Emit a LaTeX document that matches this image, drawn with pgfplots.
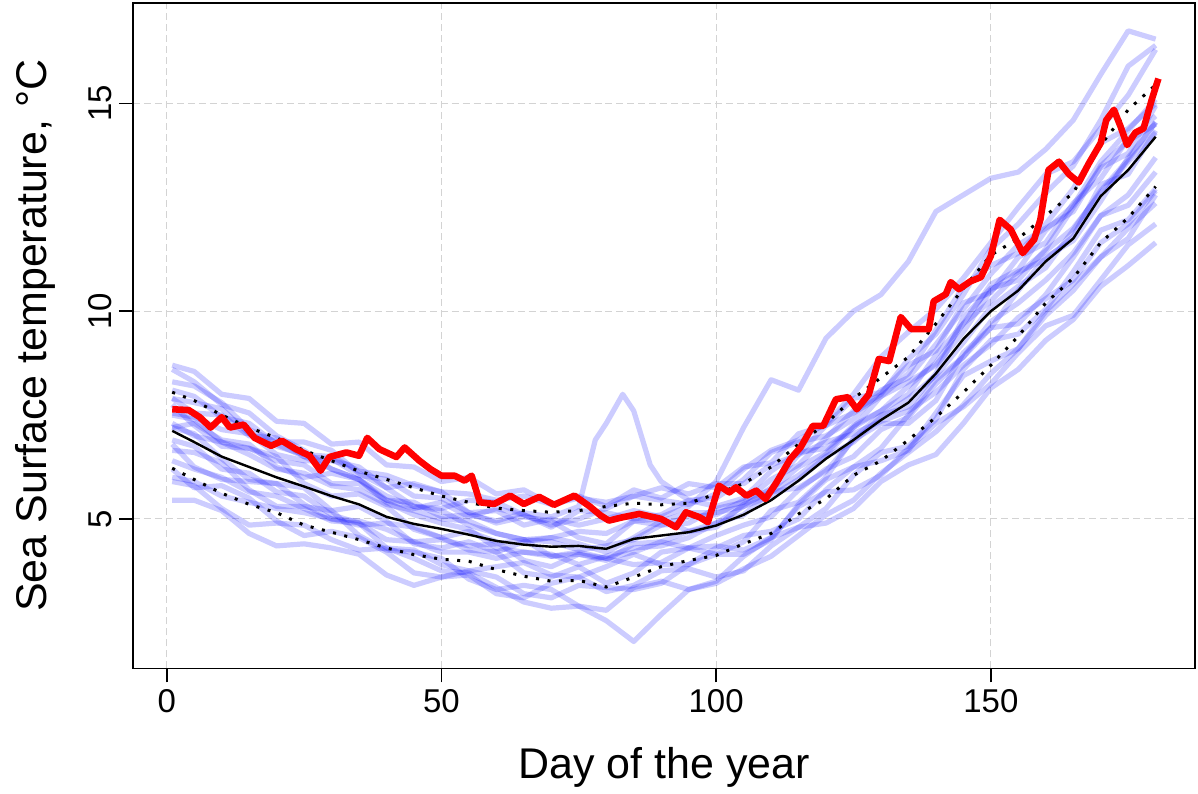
\documentclass[border=0pt]{standalone}
\usepackage{fontspec}
\setmainfont{Liberation Sans}
\usepackage{pgfplots}
\pgfplotsset{compat=1.18}
\definecolor{gridgray}{RGB}{211,211,211}

\begin{document}
\begin{tikzpicture}
\path[use as bounding box] (-66.5pt,-62.5pt) rectangle (533pt,334.5pt);
\begin{axis}[
  at={(0,0)}, anchor=south west,
  width=531.5pt, height=333pt, scale only axis,
  xmin=-6.16, xmax=187.16, ymin=1.4, ymax=17.42,
  xtick={0,50,100,150}, ytick={5,10,15},
  tick pos=left, tick align=outside, major tick length=7pt,
  axis line style={line width=0.8pt},
  tick style={line width=0.8pt, black},
  grid=major,
  major grid style={gridgray, dash pattern=on 3.5pt off 2pt, line width=0.5pt},
  /pgf/number format/assume math mode=true,
  tick label style={font=\fontsize{16.5}{19}\selectfont},
  yticklabel style={rotate=90, anchor=south},
  label style={font=\fontsize{21.5}{25}\selectfont},
  xlabel={Day of the year},
  ylabel={Sea Surface temperature, °C},
  xlabel style={at={(axis description cs:0.5,-0.1486)}, anchor=center},
  ylabel style={at={(axis description cs:-0.0922,0.5)}, anchor=center},
  spag/.style={draw=blue, opacity=0.2, line width=2.6pt, line join=round},
  sdline/.style={black, line width=1.5pt, dash pattern=on 1.5pt off 4.3pt},
]

% individual years
\addplot[spag] coordinates {(1,8.7)(5,8.55)(10,8.0)(15,7.9)(20,7.35)(25,7.3)(30,6.8)(35,6.85)(40,6.3)(45,6.25)(50,5.9)(55,6.0)(60,5.6)(65,5.7)(70,5.35)(75,5.55)(80,5.3)(85,5.7)(90,5.5)(95,5.85)(100,5.75)(105,6.25)(110,6.35)(115,7.05)(120,7.25)(125,7.9)(130,8.05)(135,8.7)(140,9.05)(145,10.2)(150,10.45)(155,11.3)(160,11.65)(165,12.6)(170,13.2)(175,14.15)(180,14.7)};
\addplot[spag] coordinates {(1,8.3)(5,8.2)(10,7.8)(15,7.15)(20,6.85)(25,6.85)(30,6.65)(35,6.1)(40,5.75)(45,5.85)(50,5.65)(55,5.15)(60,4.9)(65,5.05)(70,4.95)(75,4.55)(80,4.4)(85,4.95)(90,5.0)(95,4.7)(100,4.8)(105,5.35)(110,5.65)(115,5.75)(120,6.15)(125,6.9)(130,7.3)(135,7.3)(140,7.85)(145,9.0)(150,9.6)(155,9.7)(160,10.4)(165,11.3)(170,12.3)(175,12.55)(180,13.35)};
\addplot[spag] coordinates {(1,7.9)(5,7.8)(10,7.65)(15,7.05)(20,6.55)(25,6.4)(30,6.4)(35,6.25)(40,5.75)(45,5.3)(50,5.25)(55,5.45)(60,5.4)(65,5.1)(70,4.85)(75,5.0)(80,5.25)(85,5.55)(90,5.45)(95,5.35)(100,5.6)(105,6.2)(110,6.65)(115,6.9)(120,7.3)(125,8.0)(130,8.9)(135,9.5)(140,10.05)(145,10.8)(150,11.65)(155,12.5)(160,13.3)(165,13.6)(170,14.4)(175,15.2)(180,16.3)};
\addplot[spag] coordinates {(1,7.75)(5,7.25)(10,6.75)(15,6.7)(20,6.5)(25,5.85)(30,5.55)(35,5.6)(40,5.3)(45,4.75)(50,4.55)(55,4.7)(60,4.45)(65,4.0)(70,3.85)(75,4.15)(80,4.05)(85,3.9)(90,3.95)(95,4.3)(100,4.35)(105,4.25)(110,4.55)(115,5.3)(120,5.65)(125,5.7)(130,6.05)(135,6.7)(140,7.3)(145,7.7)(150,8.25)(155,9.0)(160,9.65)(165,9.9)(170,10.75)(175,11.6)(180,12.1)};
\addplot[spag] coordinates {(1,7.2)(5,7.3)(10,6.9)(15,6.8)(20,6.25)(25,6.0)(30,6.1)(35,5.95)(40,5.45)(45,5.25)(50,5.4)(55,5.05)(60,5.25)(65,5.1)(70,4.8)(75,5.2)(80,5.15)(85,5.0)(90,5.1)(95,5.45)(100,5.3)(105,5.5)(110,6.15)(115,6.6)(120,6.7)(125,7.2)(130,7.95)(135,8.3)(140,8.7)(145,9.5)(150,10.5)(155,10.95)(160,11.25)(165,11.8)(170,13.05)(175,13.3)(180,14.35)};
\addplot[spag] coordinates {(1,7.2)(5,7.05)(10,6.45)(15,5.95)(20,5.85)(25,5.75)(30,5.2)(35,5.3)(40,4.95)(45,4.4)(50,4.3)(55,4.45)(60,4.2)(65,3.7)(70,3.6)(75,3.85)(80,3.45)(85,3.7)(90,4.2)(95,4.3)(100,4.15)(105,4.45)(110,5.2)(115,5.4)(120,6.0)(125,6.95)(130,7.5)(135,7.7)(140,8.5)(145,9.85)(150,10.55)(155,10.75)(160,11.5)(165,12.5)(170,13.45)(175,13.8)(180,14.95)};
\addplot[spag] coordinates {(1,6.65)(5,6.6)(10,6.35)(15,5.7)(20,5.3)(25,5.3)(30,5.2)(35,4.6)(40,4.25)(45,4.2)(50,4.05)(55,3.55)(60,3.3)(65,3.4)(70,3.3)(75,2.9)(80,2.8)(85,3.35)(90,3.5)(95,3.3)(100,3.5)(105,4.1)(110,4.55)(115,4.8)(120,5.25)(125,6.05)(130,6.6)(135,6.75)(140,7.4)(145,8.6)(150,9.3)(155,9.45)(160,10.05)(165,10.95)(170,11.95)(175,12.2)(180,12.95)};
\addplot[spag] coordinates {(1,6.8)(5,6.25)(10,5.95)(15,5.9)(20,5.85)(25,5.35)(30,5.0)(35,4.85)(40,4.9)(45,4.8)(50,4.55)(55,4.25)(60,4.2)(65,4.45)(70,4.55)(75,4.4)(80,4.2)(85,4.55)(90,4.95)(95,5.15)(100,5.15)(105,5.3)(110,5.75)(115,6.55)(120,7.25)(125,7.55)(130,7.95)(135,8.5)(140,9.55)(145,10.6)(150,11.1)(155,11.4)(160,12.1)(165,12.95)(170,14.05)(175,14.4)(180,15.0)};
\addplot[spag] coordinates {(1,6.2)(5,5.75)(10,5.8)(15,5.5)(20,4.95)(25,4.6)(30,4.7)(35,4.55)(40,4.2)(45,3.7)(50,3.6)(55,3.75)(60,3.6)(65,3.2)(70,3.1)(75,3.4)(80,3.35)(85,3.3)(90,3.45)(95,3.9)(100,4.15)(105,4.15)(110,4.5)(115,5.35)(120,5.95)(125,6.25)(130,6.7)(135,7.5)(140,8.35)(145,8.9)(150,9.6)(155,10.5)(160,11.3)(165,11.7)(170,12.65)(175,13.7)(180,14.55)};
\addplot[spag] coordinates {(1,5.9)(5,5.8)(10,5.25)(15,4.85)(20,4.9)(25,4.85)(30,4.5)(35,4.25)(40,4.3)(45,4.25)(50,3.9)(55,3.75)(60,3.85)(65,3.95)(70,3.65)(75,3.6)(80,3.85)(85,4.15)(90,3.9)(95,3.9)(100,4.3)(105,4.6)(110,4.7)(115,5.0)(120,5.7)(125,6.25)(130,6.4)(135,6.65)(140,7.55)(145,8.45)(150,8.8)(155,9.1)(160,10.0)(165,10.65)(170,11.3)(175,11.75)(180,12.8)};
\addplot[spag] coordinates {(1,5.45)(5,5.45)(10,5.2)(15,4.65)(20,4.35)(25,4.4)(30,4.3)(35,4.15)(40,3.65)(45,3.4)(50,3.6)(55,3.65)(60,3.2)(65,3.1)(70,3.45)(75,3.6)(80,3.25)(85,3.4)(90,3.75)(95,3.8)(100,3.6)(105,3.75)(110,4.35)(115,4.8)(120,4.9)(125,5.25)(130,5.9)(135,6.3)(140,6.55)(145,7.3)(150,8.15)(155,8.6)(160,9.3)(165,9.8)(170,10.6)(175,11.1)(180,11.65)};
\addplot[spag] coordinates {(1,7.9)(5,7.55)(10,7.5)(15,7.0)(20,6.95)(25,6.5)(30,6.45)(35,6.05)(40,5.95)(45,5.55)(50,5.5)(55,5.15)(60,5.2)(65,4.85)(70,5.0)(75,4.85)(80,5.0)(85,5.2)(90,5.05)(95,5.3)(100,5.9)(105,7.2)(110,8.35)(115,8.1)(120,9.35)(125,10.0)(130,10.4)(135,11.2)(140,12.4)(145,12.8)(150,13.2)(155,13.35)(160,13.9)(165,14.6)(170,15.7)(175,16.75)(180,16.55)};
\addplot[spag] coordinates {(1,6.9)(5,6.75)(10,6.2)(15,6.1)(20,5.65)(25,5.55)(30,5.1)(35,4.9)(40,4.3)(45,4.05)(50,3.75)(55,3.7)(60,3.35)(65,3.0)(70,2.85)(75,2.9)(80,2.55)(85,2.05)(90,2.7)(95,3.3)(100,3.45)(105,3.8)(110,4.1)(115,4.6)(120,5.1)(125,5.45)(130,6.1)(135,6.6)(140,7.1)(145,7.75)(150,8.5)(155,9.1)(160,9.9)(165,10.5)(170,11.3)(175,12.0)(180,12.6)};
\addplot[spag] coordinates {(1,7.3)(5,7.0)(10,6.85)(15,6.55)(20,6.2)(25,6.1)(30,5.8)(35,5.7)(40,5.35)(45,5.2)(50,5.0)(55,4.95)(60,4.65)(65,4.5)(70,4.45)(75,4.25)(80,4.35)(85,4.5)(90,4.85)(95,4.9)(100,5.25)(105,5.4)(110,5.95)(115,6.3)(120,6.95)(125,7.6)(130,8.0)(135,8.85)(140,9.45)(145,10.4)(150,11.5)(155,12.1)(160,12.85)(165,13.5)(170,14.6)(175,15.9)(180,16.4)};
\addplot[spag] coordinates {(1,6.0)(5,5.9)(10,5.55)(15,5.4)(20,5.25)(25,5.15)(30,5.0)(35,4.95)(40,4.75)(45,4.45)(50,4.5)(55,4.35)(60,4.4)(65,4.5)(70,4.55)(75,4.7)(80,4.65)(85,4.95)(90,4.85)(95,5.05)(100,5.1)(105,5.45)(110,5.7)(115,6.25)(120,6.6)(125,7.25)(130,7.6)(135,8.2)(140,8.75)(145,9.7)(150,10.25)(155,10.9)(160,11.45)(165,12.0)(170,12.85)(175,13.6)(180,14.3)};
\addplot[spag] coordinates {(1,8.1)(5,7.95)(10,7.45)(15,7.3)(20,6.8)(25,6.5)(30,6.2)(35,5.95)(40,5.55)(45,5.3)(50,5.2)(55,4.85)(60,4.65)(65,4.5)(70,4.1)(75,4.2)(80,4.05)(85,4.2)(90,4.45)(95,4.3)(100,4.6)(105,4.85)(110,5.05)(115,5.7)(120,6.2)(125,6.5)(130,7.15)(135,7.45)(140,8.25)(145,8.9)(150,9.75)(155,10.2)(160,10.75)(165,11.4)(170,12.3)(175,12.8)(180,13.7)};
\addplot[spag] coordinates {(1,6.4)(5,6.2)(10,6.0)(15,5.65)(20,5.55)(25,5.25)(30,4.95)(35,4.9)(40,4.5)(45,4.45)(50,4.2)(55,4.2)(60,4.05)(65,4.2)(70,4.1)(75,4.15)(80,4.0)(85,4.4)(90,4.45)(95,4.7)(100,4.9)(105,5.1)(110,5.65)(115,6.05)(120,6.55)(125,7.2)(130,7.6)(135,8.0)(140,8.95)(145,9.7)(150,10.65)(155,11.0)(160,11.95)(165,12.55)(170,13.6)(175,14.35)(180,15.1)};
\addplot[spag] coordinates {(1,7.55)(5,7.45)(10,7.15)(15,7.05)(20,6.75)(25,6.55)(30,6.5)(35,6.15)(40,6.05)(45,5.8)(50,5.65)(55,5.6)(60,5.45)(65,5.55)(70,5.35)(75,5.5)(80,5.4)(85,5.55)(90,5.75)(95,5.6)(100,5.85)(105,5.85)(110,6.3)(115,6.55)(120,6.85)(125,7.05)(130,7.35)(135,7.6)(140,8.05)(145,8.7)(150,9.2)(155,9.85)(160,10.3)(165,10.75)(170,11.65)(175,12.1)(180,12.9)};
\addplot[spag] coordinates {(1,7.5)(5,7.4)(10,6.85)(15,6.7)(20,6.4)(25,6.3)(30,5.85)(35,5.85)(40,5.45)(45,5.4)(50,5.05)(55,5.1)(60,4.95)(65,5.15)(70,5.05)(75,5.3)(78,6.9)(80,7.3)(83,8.0)(85,7.6)(88,6.3)(90,5.9)(95,5.45)(100,5.5)(105,5.95)(110,6.6)(115,6.85)(120,7.0)(125,7.4)(130,8.1)(135,8.4)(140,9.2)(145,10.05)(150,10.9)(155,11.6)(160,12.0)(165,12.4)(170,13.5)(175,14.1)(180,14.5)};
\addplot[spag] coordinates {(1,8.6)(5,8.3)(10,7.75)(15,7.55)(20,7.0)(25,6.65)(30,6.2)(35,5.95)(40,5.4)(45,5.1)(50,4.9)(55,4.75)(60,4.3)(65,4.2)(70,4.15)(75,3.9)(80,4.1)(85,4.3)(90,4.35)(95,4.55)(100,4.9)(105,5.3)(110,5.55)(115,5.95)(120,6.5)(125,6.85)(130,7.45)(135,7.9)(140,8.45)(145,9.25)(150,10.1)(155,10.6)(160,11.05)(165,11.95)(170,12.9)(175,13.65)(180,14.55)};

% mean +/- sd
\addplot[sdline] coordinates {(1,8.05)(5,7.85)(10,7.5)(15,7.2)(20,6.95)(25,6.65)(30,6.4)(35,6.15)(40,5.95)(45,5.75)(50,5.55)(55,5.4)(60,5.26)(65,5.2)(70,5.16)(75,5.2)(80,5.3)(85,5.38)(90,5.34)(95,5.38)(100,5.6)(105,5.85)(110,6.25)(115,6.8)(120,7.3)(125,7.9)(130,8.4)(135,8.9)(140,9.7)(145,10.55)(150,11.35)(155,11.75)(160,12.3)(165,12.85)(170,14.0)(175,14.85)(180,15.45)};
\addplot[sdline] coordinates {(1,6.22)(5,5.95)(10,5.62)(15,5.35)(20,5.15)(25,4.85)(30,4.68)(35,4.5)(40,4.3)(45,4.14)(50,4.03)(55,3.98)(60,3.78)(65,3.62)(70,3.5)(75,3.52)(80,3.36)(85,3.6)(90,3.85)(95,4.0)(100,4.12)(105,4.4)(110,4.65)(115,5.12)(120,5.48)(125,6.05)(130,6.4)(135,6.9)(140,7.45)(145,8.05)(150,8.7)(155,9.4)(160,10.2)(165,10.8)(170,11.65)(175,12.25)(180,13.0)};

% mean
\addplot[black, line width=1.2pt] coordinates {(1,7.12)(5,6.85)(10,6.5)(15,6.25)(20,6.0)(25,5.78)(30,5.55)(35,5.35)(40,5.05)(45,4.88)(50,4.76)(55,4.62)(60,4.47)(65,4.38)(70,4.33)(75,4.35)(80,4.28)(85,4.52)(90,4.6)(95,4.68)(100,4.84)(105,5.1)(110,5.45)(115,5.92)(120,6.45)(125,6.9)(130,7.38)(135,7.8)(140,8.5)(145,9.33)(150,10.0)(155,10.5)(160,11.2)(165,11.75)(170,12.77)(175,13.4)(180,14.2)};

% current year
\addplot[red, line width=3.3pt, line join=round] coordinates {(1,7.64)(4,7.62)(6,7.45)(8,7.2)(10,7.45)(11.5,7.2)(14,7.27)(16,6.95)(19,6.76)(21,6.88)(23.5,6.68)(26,6.52)(28,6.16)(29.6,6.49)(32.7,6.6)(35,6.52)(36.5,6.95)(38.7,6.68)(41.8,6.49)(43.3,6.72)(46,6.4)(48,6.2)(50,6.04)(52.4,6.04)(54.2,5.92)(55.5,6.04)(57,5.4)(59.6,5.36)(62.5,5.56)(65,5.36)(67.8,5.53)(70.5,5.34)(74.2,5.56)(77,5.3)(79,5.08)(80.5,4.96)(83,5.04)(86,5.12)(90,5.0)(92.7,4.8)(94.5,5.16)(97,5.04)(98.5,4.92)(100.5,5.8)(102.4,5.64)(103.6,5.76)(105.5,5.56)(107.3,5.68)(109,5.48)(111,5.88)(113.5,6.44)(115.4,6.73)(117.6,7.24)(119.5,7.24)(121.8,7.88)(124,7.93)(125.6,7.64)(127.8,8.0)(129.6,8.85)(131.5,8.8)(133.6,9.86)(135.5,9.57)(138.7,9.57)(139.6,10.24)(141.8,10.41)(142.7,10.7)(144.2,10.53)(146.3,10.72)(148.2,10.82)(150,11.33)(151.6,12.2)(153.6,11.97)(155.8,11.4)(157.9,11.73)(159,12.2)(160.5,13.4)(162.4,13.6)(164.2,13.3)(166,13.1)(167.8,13.55)(170,14.05)(171,14.6)(172.4,14.85)(173.6,14.45)(174.8,14.0)(176.3,14.3)(177.8,14.4)(179.3,15.1)(180.5,15.6)};
\end{axis}
\end{tikzpicture}
\end{document}
